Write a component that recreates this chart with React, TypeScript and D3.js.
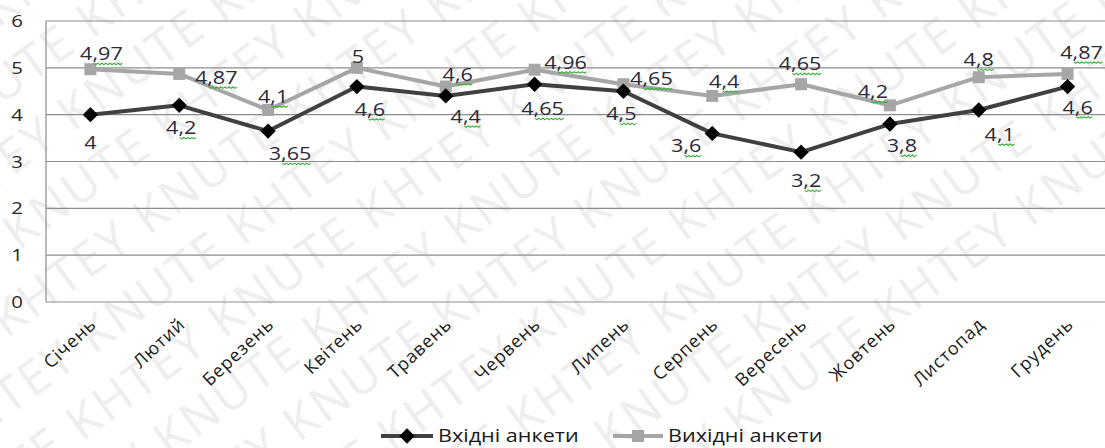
import React, { useEffect, useRef } from "react";
import * as d3 from "d3";

const months = ["Січень", "Лютий", "Березень", "Квітень", "Травень", "Червень", "Липень", "Серпень", "Вересень", "Жовтень", "Листопад", "Грудень"];
const inputValues = [4, 4.2, 3.65, 4.6, 4.4, 4.65, 4.5, 3.6, 3.2, 3.8, 4.1, 4.6];
const outputValues = [4.97, 4.87, 4.1, 5, 4.6, 4.96, 4.65, 4.4, 4.65, 4.2, 4.8, 4.87];
const yTicks = [0, 1, 2, 3, 4, 5, 6];
const seriesNames = ["Вхідні анкети", "Вихідні анкети"];

// label placement offsets (px, relative to point)
const inputLabelOffsets: [number, number][] = [[0, 27], [2, 22], [22, 22], [13, 22], [20, 20], [8, 24], [-2, 22], [-26, 12], [5, 28], [12, 21], [21, 24], [10, 20]];
const outputLabelOffsets: [number, number][] = [[11, -16], [37, 3], [5, -14], [1, -12], [12, -13], [31, -8], [28, -6], [12, -15], [-1, -21], [-17, -14], [0, -18], [14, -22]];

const W = 1105, H = 448;
const FONT = "'Open Sans', 'DejaVu Sans', sans-serif";
const SX = 1.2;

const fmt = (v: number) => String(v).replace(".", ",");

export default function App() {
  const ref = useRef<SVGSVGElement>(null);
  useEffect(() => {
    const svg = d3.select(ref.current);
    svg.selectAll("*").remove();

    const left = 46, right = 1112, top = 21, bottom = 302;
    const x = d3.scalePoint<string>().domain(months).range([left, right]).padding(0.5);
    const y = d3.scaleLinear().domain([0, 6]).range([bottom, top]);

    svg.append("rect").attr("width", W).attr("height", H).attr("fill", "#fff");

    // watermark
    const clip = svg.append("defs").append("clipPath").attr("id", "wmclip");
    clip.append("rect").attr("width", W).attr("height", H);
    const wm = svg.append("g").attr("clip-path", "url(#wmclip)")
      .append("g").attr("transform", `rotate(-36, ${W / 2}, ${H / 2})`);
    for (let i = -7; i < 13; i++) {
      const words = i % 2 === 0 ? "KNUTE KHTEY " : "KHTEY KNUTE ";
      wm.append("text")
        .attr("x", -500 + (i % 2) * 70)
        .attr("y", -260 + i * 64)
        .attr("font-family", FONT)
        .attr("font-size", 48)
        .attr("fill", "#eeeeee")
        .attr("letter-spacing", 3)
        .text(words.repeat(11));
    }

    // gridlines
    svg.append("g").selectAll("line").data(yTicks).join("line")
      .attr("x1", left).attr("x2", right)
      .attr("y1", d => y(d)).attr("y2", d => y(d))
      .attr("stroke", "#8c8c8c").attr("stroke-width", 1.2);
    svg.append("line").attr("x1", left).attr("x2", left).attr("y1", top).attr("y2", bottom)
      .attr("stroke", "#8c8c8c").attr("stroke-width", 1.2);

    // y tick labels
    svg.append("g").selectAll("text").data(yTicks).join("text")
      .attr("transform", d => `translate(17, ${y(d) + 6}) scale(${SX},1)`)
      .attr("text-anchor", "middle")
      .attr("font-family", FONT).attr("font-size", 17).attr("fill", "#262626")
      .text(d => String(d));

    // x labels
    svg.append("g").selectAll("text").data(months).join("text")
      .attr("transform", d => `translate(${(x(d) as number) + 7}, ${bottom + 24}) rotate(-43)`)
      .attr("text-anchor", "end")
      .attr("font-family", FONT).attr("font-size", 18).attr("letter-spacing", 0.8).attr("fill", "#1a1a1a")
      .text(d => d);

    const line = d3.line<number>().x((_, i) => x(months[i]) as number).y(d => y(d));

    // output series (gray)
    svg.append("path").datum(outputValues).attr("d", line).attr("fill", "none")
      .attr("stroke", "#a6a6a6").attr("stroke-width", 4).attr("stroke-linejoin", "round");
    svg.append("g").selectAll("rect").data(outputValues).join("rect")
      .attr("x", (_, i) => (x(months[i]) as number) - 6)
      .attr("y", d => y(d) - 6).attr("width", 12).attr("height", 12)
      .attr("fill", "#a6a6a6");

    // input series (dark)
    svg.append("path").datum(inputValues).attr("d", line).attr("fill", "none")
      .attr("stroke", "#404040").attr("stroke-width", 4).attr("stroke-linejoin", "round");
    const diamond = d3.symbol().type(d3.symbolDiamond2).size(150);
    svg.append("g").selectAll("path").data(inputValues).join("path")
      .attr("d", diamond)
      .attr("transform", (d, i) => `translate(${x(months[i])}, ${y(d)})`)
      .attr("fill", "#000");

    // labels
    const drawLabels = (vals: number[], offs: [number, number][]) => {
      vals.forEach((v, i) => {
        const cx = (x(months[i]) as number) + offs[i][0];
        const cy = y(v) + offs[i][1] + 7;
        const g = svg.append("g").attr("transform", `translate(${cx}, ${cy}) scale(${SX},1)`);
        const s = fmt(v);
        const t = g.append("text")
          .attr("x", 0).attr("y", 0).attr("text-anchor", "middle")
          .attr("font-family", FONT).attr("font-size", 18).attr("fill", "#2b2b3a")
          .text(s);
        if (s.includes(",")) {
          const node = t.node() as SVGTextElement;
          const bb = node.getBBox();
          const total = node.getComputedTextLength();
          const firstW = node.getSubStringLength(0, 1);
          const x0 = bb.x + firstW + 1, x1 = bb.x + total;
          const pts: [number, number][] = [];
          for (let xx = x0, k = 0; xx <= x1; xx += 1.7, k++) pts.push([xx, 3 + (k % 2 ? 1.5 : 0)]);
          g.append("path").attr("d", d3.line()(pts)).attr("fill", "none")
            .attr("stroke", "#3cb03c").attr("stroke-width", 1);
        }
      });
    };
    drawLabels(outputValues, outputLabelOffsets);
    drawLabels(inputValues, inputLabelOffsets);

    // legend
    const ly = 436;
    const lg = svg.append("g");
    lg.append("line").attr("x1", 381).attr("x2", 433).attr("y1", ly).attr("y2", ly)
      .attr("stroke", "#404040").attr("stroke-width", 4);
    lg.append("path").attr("d", diamond).attr("transform", `translate(407, ${ly})`).attr("fill", "#000");
    lg.append("text").attr("transform", `translate(438, ${ly + 6}) scale(${SX},1)`).attr("font-family", FONT).attr("font-size", 18)
      .attr("fill", "#1a1a1a").text(seriesNames[0]);
    lg.append("line").attr("x1", 613).attr("x2", 663).attr("y1", ly).attr("y2", ly)
      .attr("stroke", "#a6a6a6").attr("stroke-width", 4);
    lg.append("rect").attr("x", 632).attr("y", ly - 6).attr("width", 12).attr("height", 12).attr("fill", "#a6a6a6");
    lg.append("text").attr("transform", `translate(668, ${ly + 6}) scale(${SX},1)`).attr("font-family", FONT).attr("font-size", 18)
      .attr("fill", "#1a1a1a").text(seriesNames[1]);
  }, []);

  return (
    <svg ref={ref} width={W} height={H} style={{ position: "absolute", left: 0, top: 0, display: "block" }} />
  );
}
